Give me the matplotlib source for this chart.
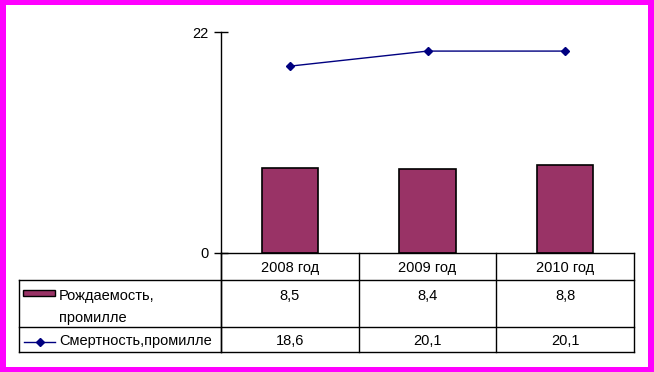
import matplotlib
matplotlib.use("Agg")
import matplotlib.pyplot as plt
from matplotlib.patches import Rectangle
from matplotlib.lines import Line2D
from matplotlib.transforms import blended_transform_factory

plt.rcParams['font.family'] = ['Liberation Sans', 'DejaVu Sans']

categories = ["2008 год", "2009 год", "2010 год"]
birth = [8.5, 8.4, 8.8]
death = [18.6, 20.1, 20.1]
birth_label = "Рождаемость,\nпромилле"
death_label = "Смертность,промилле"
y_ticks = [0, 22]

W, H = 654, 372
fig = plt.figure(figsize=(W / 100, H / 100), dpi=100)
fig.patch.set_facecolor('#FF00FF')

def fx(x):
    return x / W

def fy(y):
    return 1 - y / H

FS = 10.5

# white inner panel
fig.add_artist(Rectangle((fx(6), fy(367)), fx(648) - fx(6), fy(5) - fy(367),
                         transform=fig.transFigure, facecolor='white',
                         edgecolor='none', zorder=0))

ax = fig.add_axes([fx(221), fy(253), fx(634) - fx(221), fy(32) - fy(253)])
ax.set_facecolor('none')
x = list(range(len(categories)))
ax.bar(x, birth, width=0.41, color='#993366', edgecolor='black', linewidth=1.2, zorder=2)
ax.plot(x, death, color='#000080', linewidth=1.0, marker='D', markersize=4,
        markerfacecolor='#000080', markeredgecolor='#000080', zorder=3)
ax.set_xlim(-0.5, len(categories) - 0.5)
ax.set_ylim(0, 22)
ax.set_yticks(y_ticks)
ax.set_yticklabels([str(t) for t in y_ticks], fontsize=FS)
ax.tick_params(axis='y', direction='inout', length=10, width=1, pad=4, colors='black')
ax.set_xticks([])
for s in ['top', 'right']:
    ax.spines[s].set_visible(False)
ax.spines['left'].set_linewidth(1)
ax.spines['bottom'].set_linewidth(1)

# data table
lc = 'black'
lw = 1.0
def hline(x0, x1, y):
    fig.add_artist(Line2D([fx(x0), fx(x1)], [fy(y), fy(y)], transform=fig.transFigure,
                          color=lc, linewidth=lw))

def vline(x, y0, y1):
    fig.add_artist(Line2D([fx(x), fx(x)], [fy(y0), fy(y1)], transform=fig.transFigure,
                          color=lc, linewidth=lw))

hline(19, 634, 280)
hline(19, 634, 327)
hline(19, 634, 352)
vline(19, 280, 352)
vline(221, 253, 352)
# column separators at category boundaries
bt = blended_transform_factory(ax.transData, fig.transFigure)
for i in range(len(categories) + 1):
    xb = i - 0.5
    fig.add_artist(Line2D([xb, xb], [fy(253), fy(352)], transform=bt, color=lc, linewidth=lw))

fmt = lambda v: f"{v:.1f}".replace('.', ',')
for i, c in enumerate(categories):
    fig.text(i, fy(268), c, transform=bt, ha='center', va='center', fontsize=FS)
    fig.text(i, fy(296), fmt(birth[i]), transform=bt, ha='center', va='center', fontsize=FS)
    fig.text(i, fy(341), fmt(death[i]), transform=bt, ha='center', va='center', fontsize=FS)

# legend keys
fig.add_artist(Rectangle((fx(23), fy(296)), fx(55) - fx(23), fy(290) - fy(296),
                         transform=fig.transFigure, facecolor='#993366',
                         edgecolor='black', linewidth=1))
fig.text(fx(59), fy(307), birth_label, ha='left', va='center', fontsize=FS,
         linespacing=1.7)
fig.add_artist(Line2D([fx(24), fx(55)], [fy(342), fy(342)], transform=fig.transFigure,
                      color='#000080', linewidth=1))
fig.add_artist(Line2D([fx(39.5)], [fy(342)], transform=fig.transFigure, marker='D',
                      markersize=4, color='#000080', linestyle='none'))
fig.text(fx(59), fy(341), death_label, ha='left', va='center', fontsize=FS)

fig.savefig('out.png', dpi=100, facecolor=fig.get_facecolor())
